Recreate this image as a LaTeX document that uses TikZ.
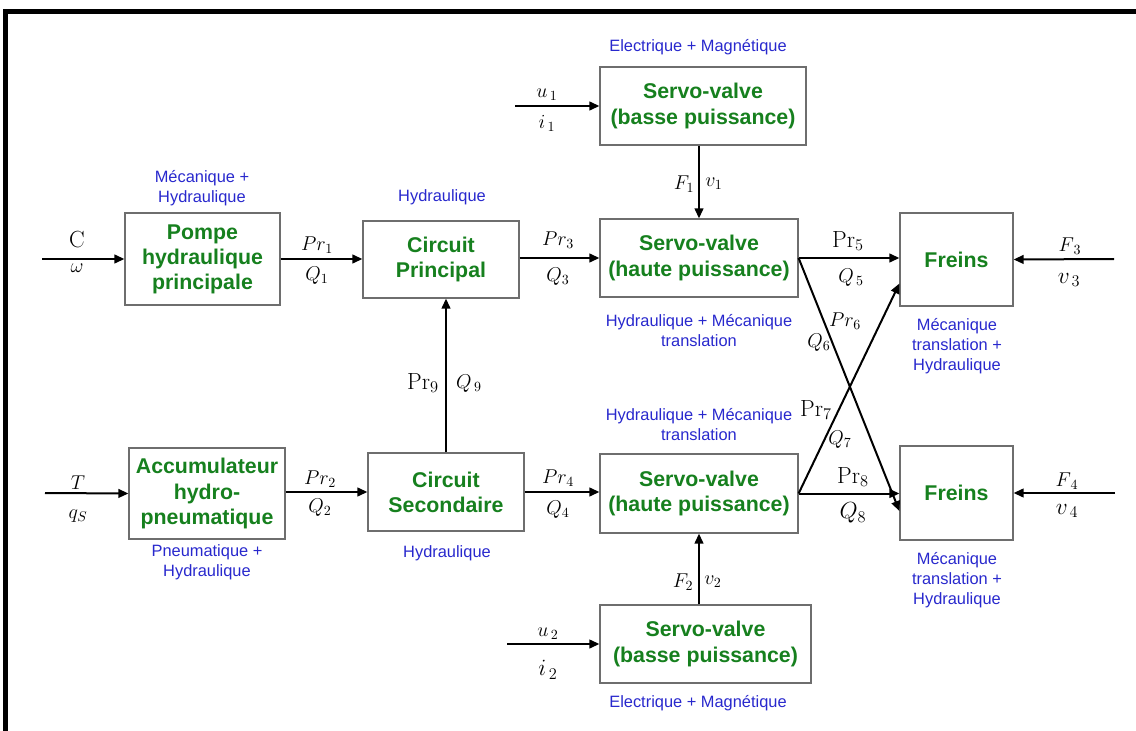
\RequirePackage{fix-cm}
\documentclass[tikz,border=0pt]{standalone}
\usepackage[no-math]{fontspec}
\newfontfamily\arialf{Liberation Sans}
\usetikzlibrary{arrows.meta}
\definecolor{boxgreen}{RGB}{22,128,30}
\definecolor{labelblue}{RGB}{40,40,205}
\definecolor{boxgray}{RGB}{110,110,110}
\begin{document}
\begin{tikzpicture}[x=0.75pt,y=-0.75pt,
  blk/.style 2 args={draw=boxgray, line width=0.9pt, fill=white, align=center,
    font=\arialf\bfseries\fontsize{16}{18.8}\selectfont, text=boxgreen, inner sep=0pt,
    minimum width=#1*0.75pt, minimum height=#2*0.75pt},
  dom/.style={font=\arialf\fontsize{12.3}{15}\selectfont, text=labelblue, align=center, inner sep=0pt},
  ms/.style={font=\fontsize{15}{17}\selectfont, inner sep=0pt},
  mb/.style={font=\fontsize{17.5}{20}\selectfont, inner sep=0pt},
  arr/.style={-{Triangle[length=7.5pt,width=6.5pt]}, line width=1.5pt}
]
\useasboundingbox (0,0) rectangle (1136,731);
% frame
\draw[line width=3.75pt] (5,731) -- (5,11.5) -- (1136,11.5);

% boxes
\node[blk={155}{92}] (pompe) at (202.5,259) {Pompe\\hydraulique\\principale};
\node[blk={156}{77}] (cp) at (441,259.5) {Circuit\\Principal};
\node[blk={206}{78}] (svb1) at (703,106) {Servo-valve\\(basse puissance)};
\node[blk={198}{78}] (svh1) at (699,258) {Servo-valve\\(haute puissance)};
\node[blk={113}{93}] (fr1) at (956.5,259.5) {Freins};
\node[blk={156}{91}] (acc) at (207,493.5) {Accumulateur\\hydro-\\pneumatique};
\node[blk={156}{78}] (cs) at (446,492) {Circuit\\Secondaire};
\node[blk={198}{79}] (svh2) at (699,493.5) {Servo-valve\\(haute puissance)};
\node[blk={113}{94}] (fr2) at (956.5,493) {Freins};
\node[blk={211}{78}] (svb2) at (705.5,644) {Servo-valve\\(basse puissance)};

% free ends
\coordinate (inC) at (42,259);
\coordinate (inU1) at (515,106);
\coordinate (inF3) at (1114,259);
\coordinate (inT) at (45,493);
\coordinate (inU2) at (507,644);
\coordinate (inF4) at (1115,493);

% connectors
\draw[arr] (inC) -- (pompe.west);
\draw[arr] (pompe.east) -- (pompe.east -| cp.west);
\draw[arr] (cp.east |- svh1.east) -- (svh1.west);
\draw[arr] (inU1) -- (svb1.west);
\draw[arr] (svb1.south -| svh1.north) -- (svh1.north);
\draw[arr] (svh1.east) -- (svh1.east -| fr1.west);
\draw[arr] (inF3) -- (fr1.east);
\draw[arr] (svh1.east) -- ([yshift=-13.5pt]fr2.west);
\draw[arr] (svh2.east) -- ([yshift=-18pt]fr1.west);
\draw[arr] (inT) -- (acc.west);
\draw[arr] (acc.east |- cs.west) -- (cs.west);
\draw[arr] (cs.east) -- (cs.east -| svh2.west);
\draw[arr] (cs.north) -- (cs.north |- cp.south);
\draw[arr] (svh2.east) -- (svh2.east -| fr2.west);
\draw[arr] (inF4) -- (fr2.east);
\draw[arr] (inU2) -- (svb2.west);
\draw[arr] (svb2.north -| svh2.south) -- (svh2.south);

% signal labels
\node[mb] (lC) at (77,240) {$\mathrm{C}$};
\node[ms] (lw) at (77,268) {$\omega$};
\node[ms] (lpr1) at (317,245) {$Pr_1$};
\node[ms] (lq1) at (317,276) {$Q_1$};
\node[ms] (lpr3) at (558,240) {$Pr_3$};
\node[ms] (lq3) at (558,277) {$Q_3$};
\node[mb] (lpr5) at (848,241) {$\mathrm{Pr}_5$};
\node[ms] (lq5) at (851,278) {$Q_{\,5}$};
\node[ms] (lf3) at (1070,246) {$F_{\,3}$};
\node[mb] (lv3) at (1069,280) {$v_{\,3}$};
\node[ms] (lu1) at (547,95) {$u_{\,1}$};
\node[ms] (li1) at (547,123) {$i_{\,1}$};
\node[ms] (lf1) at (684,184) {$F_1$};
\node[ms] (lv1) at (714,184) {$v_1$};
\node[ms] (lpr6) at (845,321) {$Pr_6$};
\node[ms] (lq6) at (819,343) {$Q_6$};
\node[mb] (lpr7) at (816,410) {$\mathrm{Pr}_7$};
\node[ms] (lq7) at (840,440) {$Q_7$};
\node[mb] (lpr8) at (853,477) {$\mathrm{Pr}_8$};
\node[mb] (lq8) at (853,513) {$Q_8$};
\node[ms] (lf4) at (1067,481) {$F_{\,4}$};
\node[mb] (lv4) at (1067,511) {$v_{\,4}$};
\node[ms] (lT) at (78,483) {$T$};
\node[ms] (lqs) at (78,516) {$q_S$};
\node[ms] (lpr2) at (320,479) {$Pr_2$};
\node[ms] (lq2) at (320,508) {$Q_2$};
\node[mb] (lpr9) at (423,383) {$\mathrm{Pr}_9$};
\node[ms] (lq9) at (469,384) {$Q_{\,9}$};
\node[ms] (lpr4) at (558,478) {$Pr_4$};
\node[ms] (lq4) at (558,510) {$Q_4$};
\node[ms] (lf2) at (683,582) {$F_2$};
\node[ms] (lv2) at (713,582) {$v_2$};
\node[ms] (lu2) at (548,634) {$u_{\,2}$};
\node[mb] (li2) at (548,670) {$i_{\,2}$};

% domain labels
\node[dom] (d1) at (698,47) {Electrique + Magnétique};
\node[dom] (d2) at (202,188) {Mécanique +\\Hydraulique};
\node[dom] (d3) at (442,197) {Hydraulique};
\node[dom] (d4) at (699,331) {Hydraulique + Mécanique\\translation};
\node[dom] (d5) at (957,346) {Mécanique\\translation +\\Hydraulique};
\node[dom] (d6) at (699,425) {Hydraulique + Mécanique\\translation};
\node[dom] (d7) at (207,562) {Pneumatique +\\Hydraulique};
\node[dom] (d8) at (447,553) {Hydraulique};
\node[dom] (d9) at (957,580) {Mécanique\\translation +\\Hydraulique};
\node[dom] (d10) at (698,703) {Electrique + Magnétique};
\end{tikzpicture}
\end{document}
